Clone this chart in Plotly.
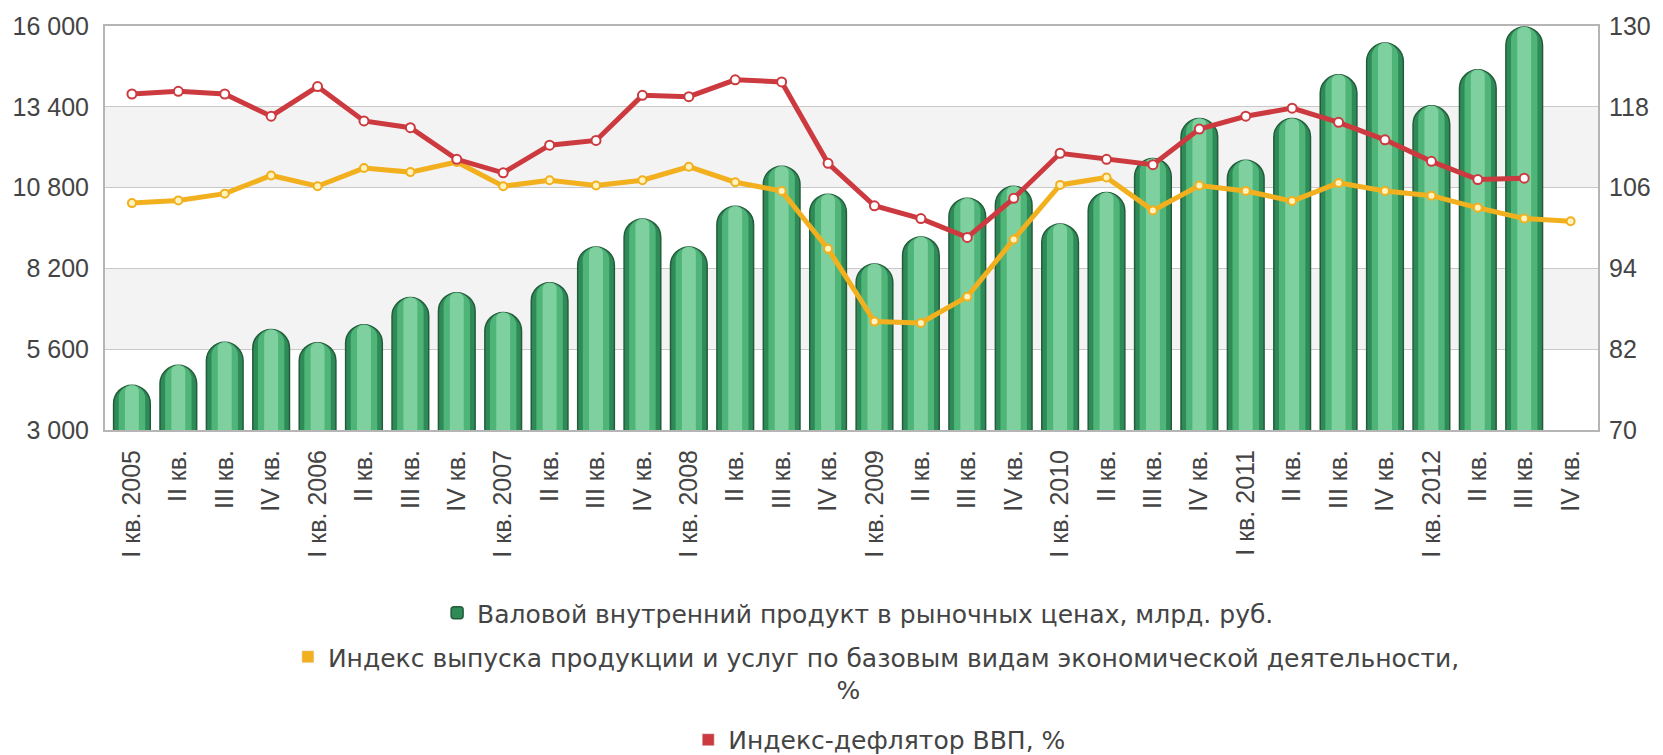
import plotly.graph_objects as go

quarter_labels = [
    "I кв. 2005", "II кв.", "III кв.", "IV кв.",
    "I кв. 2006", "II кв.", "III кв.", "IV кв.",
    "I кв. 2007", "II кв.", "III кв.", "IV кв.",
    "I кв. 2008", "II кв.", "III кв.", "IV кв.",
    "I кв. 2009", "II кв.", "III кв.", "IV кв.",
    "I кв. 2010", "II кв.", "III кв.", "IV кв.",
    "I кв. 2011", "II кв.", "III кв.", "IV кв.",
    "I кв. 2012", "II кв.", "III кв.", "IV кв.",
]

gdp = [4440, 5080, 5820, 6230, 5810, 6390, 7260, 7420,
       6780, 7740, 8890, 9790, 8890, 10200, 11490, 10590,
       8340, 9210, 10460, 10840, 9630, 10640, 11740, 13020,
       11680, 13020, 14430, 15450, 13430, 14590, 15970]

output_index = [103.7, 104.1, 105.1, 107.8, 106.2, 108.9, 108.3, 109.8,
                106.2, 107.1, 106.3, 107.1, 109.1, 106.8, 105.5, 96.9,
                86.1, 85.9, 89.8, 98.3, 106.4, 107.5, 102.6, 106.3,
                105.5, 104.0, 106.7, 105.5, 104.8, 103.0, 101.4, 101.0]

deflator = [119.9, 120.3, 119.9, 116.6, 121.0, 115.9, 114.9, 110.2,
            108.2, 112.3, 113.0, 119.7, 119.5, 122.0, 121.7, 109.6,
            103.3, 101.4, 98.6, 104.4, 111.1, 110.2, 109.4, 114.7,
            116.6, 117.8, 115.7, 113.1, 109.9, 107.2, 107.4]

name_gdp = "Валовой внутренний продукт в рыночных ценах, млрд. руб."
name_out = "Индекс выпуска продукции и услуг по базовым видам экономической деятельности,"
name_def = "Индекс-дефлятор ВВП, %"

GREEN = "#2e8b57"
YELLOW = "#f2b01e"
RED = "#cc3a3f"
FONT = "Liberation Sans, Arial, sans-serif"
LEG_FONT = "DejaVu Sans, Liberation Sans, sans-serif"
TXT = "#444444"

xs_gdp = list(range(len(gdp)))
xs_out = list(range(len(output_index)))
xs_def = list(range(len(deflator)))

fig = go.Figure()

# cylinder-like bars: outer body + lighter inner bands
fig.add_trace(go.Bar(x=xs_gdp, y=gdp, width=0.79, name=name_gdp,
                     marker=dict(color=GREEN, cornerradius="50%",
                                 line=dict(color="#245c3b", width=1.5)),
                     legend="legend", showlegend=True))
fig.add_trace(go.Bar(x=xs_gdp, y=gdp, width=0.57,
                     marker=dict(color="#4fb477", cornerradius="50%", line=dict(width=0)),
                     showlegend=False, hoverinfo="skip"))
fig.add_trace(go.Bar(x=xs_gdp, y=gdp, width=0.3,
                     marker=dict(color="#7fd09f", cornerradius="50%", line=dict(width=0)),
                     showlegend=False, hoverinfo="skip"))

fig.add_trace(go.Scatter(x=xs_out, y=output_index, yaxis="y2", mode="lines+markers",
                         line=dict(color=YELLOW, width=5),
                         marker=dict(size=8, color="#fff3c0", line=dict(color=YELLOW, width=2)),
                         showlegend=False, name=name_out))
fig.add_trace(go.Scatter(x=xs_def, y=deflator, yaxis="y2", mode="lines+markers",
                         line=dict(color=RED, width=5),
                         marker=dict(size=9, color="#ffffff", line=dict(color=RED, width=2)),
                         showlegend=False, name=name_def))

# legend entries with square swatches
pad = "&nbsp;" * 64
fig.add_trace(go.Bar(x=[None], y=[None], name=name_out + "<br>" + pad + "%",
                     marker=dict(color=YELLOW), legend="legend2", showlegend=True))
fig.add_trace(go.Bar(x=[None], y=[None], name=name_def,
                     marker=dict(color=RED), legend="legend3", showlegend=True))

# alternating horizontal bands
for lo, hi in [(10800, 13400), (5600, 8200)]:
    fig.add_shape(type="rect", xref="paper", yref="y", x0=0, x1=1, y0=lo, y1=hi,
                  fillcolor="#f3f3f3", line=dict(width=0), layer="below")

legend_font = dict(family=LEG_FONT, size=25, color=TXT)
common_leg = dict(orientation="h", xanchor="center", yanchor="middle",
                  xref="container", yref="container",
                  font=legend_font, bgcolor="rgba(0,0,0,0)", itemclick=False)

fig.update_layout(
    width=1663, height=755,
    margin=dict(l=105, r=62, t=24, b=325),
    paper_bgcolor="white", plot_bgcolor="white",
    barmode="overlay",
    separators=". ",
    font=dict(family=FONT, color=TXT),
    xaxis=dict(range=[-0.58, 31.59], tickmode="array",
               tickvals=list(range(len(quarter_labels))), ticktext=quarter_labels,
               tickangle=-90, tickfont=dict(size=25, color=TXT, family=FONT),
               showgrid=False, zeroline=False, showline=True, mirror=True,
               linecolor="#b5b5b5", linewidth=2, ticks="", ticklabelstandoff=8),
    yaxis=dict(range=[3000, 16000], tick0=3000, dtick=2600, tickformat=",d",
               tickfont=dict(size=25, color=TXT, family=FONT),
               showgrid=True, gridcolor="#c9c9c9", gridwidth=1, zeroline=False,
               showline=True, mirror=True, linecolor="#b5b5b5", linewidth=2,
               ticks="", ticklabelstandoff=9),
    yaxis2=dict(range=[70, 130], tick0=70, dtick=12, overlaying="y", side="right",
                tickfont=dict(size=25, color=TXT, family=FONT),
                showgrid=False, zeroline=False, showline=False, ticks="",
                ticklabelstandoff=10),
    legend=dict(x=0.516, y=0.188, **common_leg),
    legend2=dict(x=0.527, y=0.1086, valign="top", **common_leg),
    legend3=dict(x=0.529, y=0.0199, **common_leg),
)

fig.write_html("out.html", config={"displayModeBar": False},
               post_script="document.body.style.margin='0';document.body.style.overflow='hidden';")
